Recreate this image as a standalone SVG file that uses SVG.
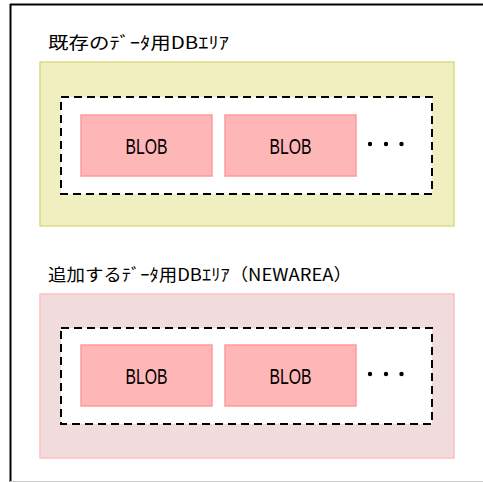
<svg xmlns="http://www.w3.org/2000/svg" width="483" height="482" viewBox="0 0 483 482">
<style>
.t{font-family:"Noto Sans CJK JP","Liberation Sans",sans-serif;font-size:17px;fill:#000}
.b{font-family:"Liberation Sans","Noto Sans CJK JP",sans-serif;font-size:22px;fill:#000;text-anchor:middle}
.blob{fill:#FFB6B6;stroke:#FF9A9A;stroke-width:1.5}
.dash{fill:#fff;stroke:#000;stroke-width:2;stroke-dasharray:8,5}
</style>
<rect x="0" y="0" width="483" height="482" fill="#fff"/>
<line x1="10" y1="4.5" x2="483" y2="4.5" stroke="#000" stroke-width="2"/>
<line x1="10.5" y1="4" x2="10.5" y2="482" stroke="#000" stroke-width="2"/>
<line x1="10" y1="481.5" x2="483" y2="481.5" stroke="#ccc" stroke-width="1"/>
<g id="area1">
<text class="t" x="48" y="49" textLength="181" lengthAdjust="spacingAndGlyphs">既存のﾃﾞｰﾀ用DBｴﾘｱ</text>
<rect x="40" y="62" width="414" height="164" fill="#F0EFC0" stroke="#DCDC80" stroke-width="1.5"/>
<rect class="dash" x="61" y="97" width="371" height="97"/>
</g>
<g id="blob1"><rect class="blob" x="81" y="115" width="131" height="61"/><text class="b" x="146.5" y="154" textLength="42" lengthAdjust="spacingAndGlyphs">BLOB</text></g>
<g id="blob2"><rect class="blob" x="225" y="115" width="131" height="61"/><text class="b" x="290.5" y="154" textLength="42" lengthAdjust="spacingAndGlyphs">BLOB</text></g>
<g id="dots1"><circle cx="370" cy="144" r="2.2"/><circle cx="386" cy="144" r="2.2"/><circle cx="401.5" cy="144" r="2.2"/></g>
<g id="area2">
<text class="t" x="48" y="281" textLength="304" lengthAdjust="spacingAndGlyphs">追加するﾃﾞｰﾀ用DBｴﾘｱ（NEWAREA）</text>
<rect x="40" y="294" width="414" height="164" fill="#F0DCDC" stroke="#FFC0C0" stroke-width="1.5"/>
<rect class="dash" x="61" y="328" width="371" height="96"/>
</g>
<g id="blob3"><rect class="blob" x="81" y="345" width="131" height="61"/><text class="b" x="146.5" y="384" textLength="42" lengthAdjust="spacingAndGlyphs">BLOB</text></g>
<g id="blob4"><rect class="blob" x="225" y="345" width="131" height="61"/><text class="b" x="290.5" y="384" textLength="42" lengthAdjust="spacingAndGlyphs">BLOB</text></g>
<g id="dots2"><circle cx="370" cy="374" r="2.2"/><circle cx="386" cy="374" r="2.2"/><circle cx="401.5" cy="374" r="2.2"/></g>
<g id="connectors"></g>
</svg>
